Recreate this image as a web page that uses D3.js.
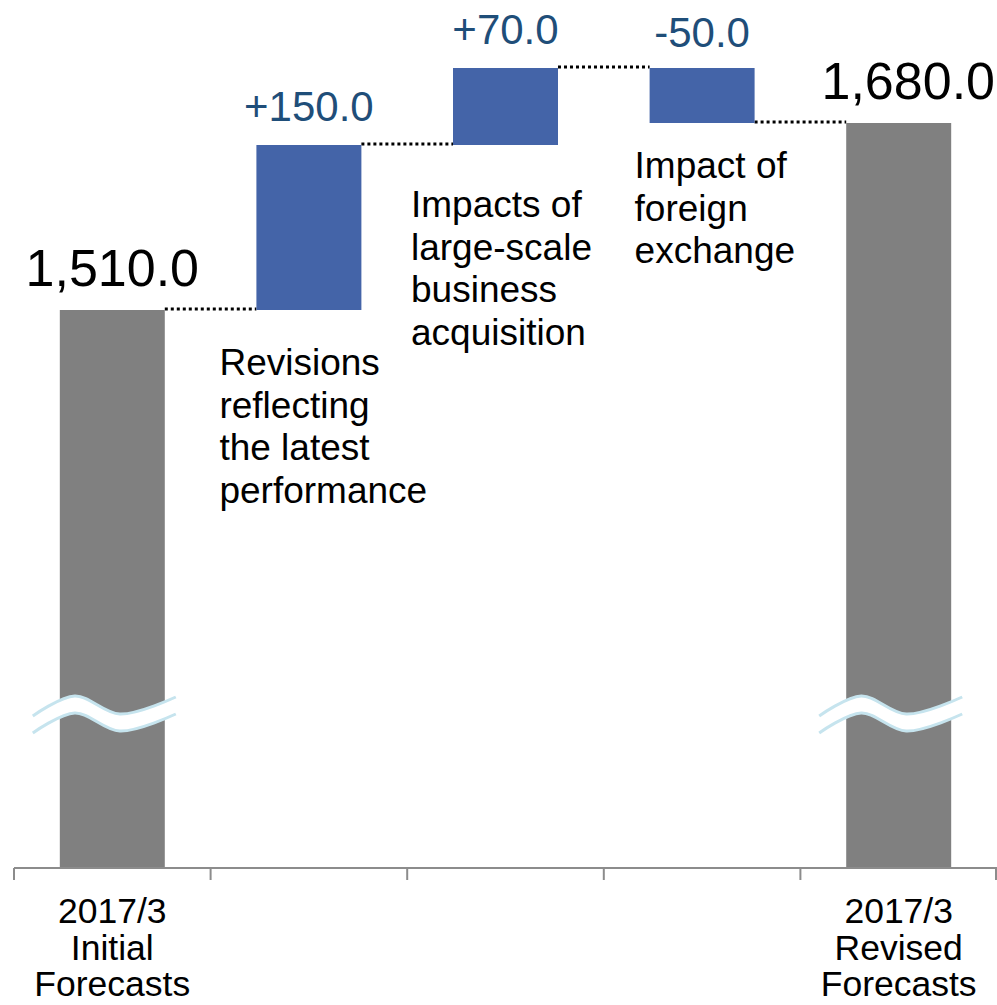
<!DOCTYPE html>
<html>
<head>
<meta charset="utf-8">
<script src="https://cdn.jsdelivr.net/npm/d3@7"></script>
<style>
    html, body { margin: 0; padding: 0; background: #fff; }
    text { font-family: "Liberation Sans", Arial, sans-serif; }
</style>
</head>
<body>
<svg id="Target" width="997" height="1005"></svg>
<script>
// waterfall data
var stepKinds = ["total", "delta", "delta", "delta", "total"];
var stepValues = [1510, 150, 70, -50, 1680];
var axisLabels = [
    ["2017/3", "Initial", "Forecasts"],
    [], [], [],
    ["2017/3", "Revised", "Forecasts"]
];
var notes = [
    [],
    ["Revisions", "reflecting", "the latest", "performance"],
    ["Impacts of", "large-scale", "business", "acquisition"],
    ["Impact of", "foreign", "exchange"],
    []
];

// where each note sits, relative to the bar's left edge and bottom
var noteOffsets = [null, [-37, 65], [-42, 72], [-15, 55], null];

var svg = d3.select("#Target");
var axisY = 868;

// running totals
var steps = [];
var running = 0;
stepValues.forEach(function (v, i) {
    var start, end;
    if (stepKinds[i] === "total") {
        start = null;
        end = v;
    } else {
        start = running;
        end = running + v;
    }
    running = end;
    steps.push({ i: i, kind: stepKinds[i], value: v, start: start, end: end });
});

var x = d3.scaleBand()
    .domain(d3.range(stepValues.length))
    .range([14, 997])
    .paddingInner(0.466)
    .paddingOuter(0.233);

// y is broken below the first total, so only the top part is to scale
var y = d3.scaleLinear()
    .domain([1510, 1730])
    .range([310, 68]);

// connectors
svg.selectAll("line.connector")
    .data(steps.slice(0, -1))
    .enter()
    .append("line")
    .attr("x1", function (d) { return x(d.i) + x.bandwidth(); })
    .attr("x2", function (d) { return x(d.i + 1); })
    .attr("y1", function (d) { return y(d.end) - 1; })
    .attr("y2", function (d) { return y(d.end) - 1; })
    .attr("stroke", "#000")
    .attr("stroke-width", 3)
    .attr("stroke-dasharray", "3 3");

// bars
svg.selectAll("rect.bar")
    .data(steps)
    .enter()
    .append("rect")
    .attr("x", function (d) { return x(d.i); })
    .attr("width", x.bandwidth())
    .attr("y", function (d) {
        if (d.kind === "total") return y(d.end);
        return y(Math.max(d.start, d.end));
    })
    .attr("height", function (d) {
        if (d.kind === "total") return axisY - y(d.end);
        return Math.abs(y(d.start) - y(d.end));
    })
    .attr("fill", function (d) { return d.kind === "total" ? "#808080" : "#4464a8"; });

// axis break marks on the total bars
var wave = d3.line().curve(d3.curveCatmullRom);
var wavePts = [[-27, 716], [15, 696], [60, 714], [116, 697]];
var gap = 17;
steps.filter(function (d) { return d.kind === "total"; }).forEach(function (d) {
    var bx = x(d.i);
    var top = wavePts.map(function (p) { return [bx + p[0], p[1]]; });
    var bottom = wavePts.map(function (p) { return [bx + p[0], p[1] + gap]; });
    svg.append("path")
        .attr("d", wave(top) + "L" + wave(bottom.slice().reverse()).slice(1) + "Z")
        .attr("fill", "#fff");
    [top, bottom].forEach(function (pts) {
        svg.append("path")
            .attr("d", wave(pts))
            .attr("fill", "none")
            .attr("stroke", "#c6e4ee")
            .attr("stroke-width", 3);
    });
});

// x axis: line with ticks at the band edges
svg.append("line")
    .attr("x1", x.range()[0])
    .attr("x2", x.range()[1])
    .attr("y1", axisY)
    .attr("y2", axisY)
    .attr("stroke", "#8c8c8c")
    .attr("stroke-width", 2);
svg.selectAll("line.tick")
    .data(d3.range(stepValues.length + 1))
    .enter()
    .append("line")
    .attr("x1", function (d) { return Math.min(x.range()[0] + d * x.step(), 996); })
    .attr("x2", function (d) { return Math.min(x.range()[0] + d * x.step(), 996); })
    .attr("y1", axisY)
    .attr("y2", axisY + 12)
    .attr("stroke", "#8c8c8c")
    .attr("stroke-width", 2);

// category labels under the axis
axisLabels.forEach(function (lines, i) {
    var t = svg.append("text")
        .attr("text-anchor", "middle")
        .attr("font-size", 35.5)
        .attr("fill", "#000");
    lines.forEach(function (s, k) {
        t.append("tspan")
            .attr("x", x(i) + x.bandwidth() / 2)
            .attr("y", 923 + k * 36.5)
            .text(s);
    });
});

// value labels
var fmt = d3.format(",.1f");
steps.forEach(function (d) {
    var cx = x(d.i) + x.bandwidth() / 2;
    if (d.kind === "total") {
        var t = svg.append("text")
            .attr("x", cx)
            .attr("y", y(d.end) - 24)
            .attr("text-anchor", "middle")
            .attr("font-size", 52)
            .attr("fill", "#000")
            .text(fmt(d.value));
        var w = t.node().getComputedTextLength();
        // the last total sits flush with the right edge
        if (d.i === stepValues.length - 1) t.attr("x", 995 - w / 2);
    } else {
        var label = (d.value > 0 ? "+" : "-") + fmt(Math.abs(d.value));
        svg.append("text")
            .attr("x", cx)
            .attr("y", y(Math.max(d.start, d.end)) - (d.value > 0 ? 24 : 21))
            .attr("text-anchor", "middle")
            .attr("font-size", 42)
            .attr("fill", "#1f4e79")
            .text(label);
    }
});

// notes under the delta bars
steps.forEach(function (d) {
    var off = noteOffsets[d.i];
    if (!off) return;
    var bottom = y(Math.min(d.start, d.end));
    var t = svg.append("text")
        .attr("font-size", 37)
        .attr("fill", "#000");
    notes[d.i].forEach(function (s, k) {
        t.append("tspan")
            .attr("x", x(d.i) + off[0])
            .attr("y", bottom + off[1] + k * 42.5)
            .text(s);
    });
});
</script>
</body>
</html>
